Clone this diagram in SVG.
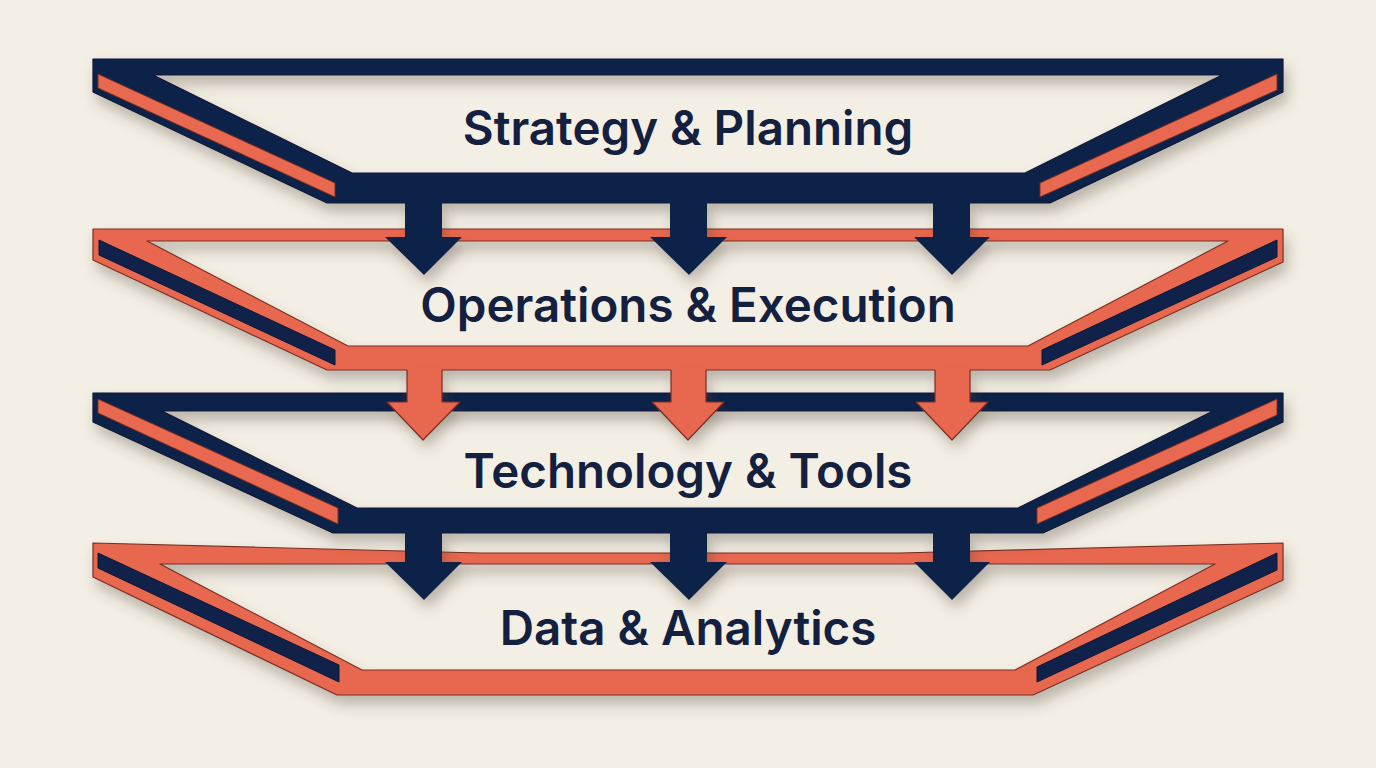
<svg xmlns="http://www.w3.org/2000/svg" width="1376" height="768" viewBox="0 0 1376 768">
<defs>
<filter id="sh" x="-10%" y="-20%" width="120%" height="150%">
<feDropShadow dx="4" dy="9" stdDeviation="7" flood-color="#4a3e30" flood-opacity="0.33"/>
</filter>
<style>
.navy{fill:#102249;stroke:#0b1836;stroke-width:1.2;stroke-linejoin:round}
.orng{fill:#e86850;stroke:#7a2e22;stroke-width:1.2;stroke-linejoin:round}
.sn{fill:#102249;stroke:#0b1836;stroke-width:1}
.so{fill:#e86850;stroke:#7a2e22;stroke-width:1}
.lbl{font-family:Inter,"Liberation Sans",sans-serif;font-weight:600;font-size:47.5px;fill:#13203f;text-anchor:middle}
.an{fill:#102249}
.ao{fill:#e86850}
.ol{fill:none;stroke:#7a2e22;stroke-width:1.2;stroke-linejoin:round}
</style>
</defs>
<rect width="1376" height="768" fill="#f3efe4"/>

<g id="layer4">
<path class="orng" filter="url(#sh)" fill-rule="evenodd" d="M93,543 L480,553 H900 L1283,543 V580 L1033,695 H337 L93,577 Z M160,564 H1215 L1015,670 H362 Z"/>
<polygon class="sn" points="98,553 98,568 339,682 339,665"/>
<polygon class="sn" points="1277,553 1277,570 1037,682 1037,667"/>
<text class="lbl" x="688" y="645">Data &amp; Analytics</text>
</g>

<g id="layer3">
<path class="navy" filter="url(#sh)" fill-rule="evenodd" d="M93,393 H1283 V422 L1043,533 H333 L93,422 Z M162,411 H1213 L1018,508 H357 Z"/>
<polygon class="so" points="98,399 98,413 338,524 338,508"/>
<polygon class="so" points="1277,399 1277,415 1037,524 1037,508"/>
<text class="lbl" x="688" y="488">Technology &amp; Tools</text>
</g>

<g id="layer2">
<path class="orng" filter="url(#sh)" fill-rule="evenodd" d="M93,229 H1283 V262 L1050,370 H327 L93,260 Z M147,241 H1228 L1028,346 H348 Z"/>
<polygon class="sn" points="99,240 99,255 335,365 335,350"/>
<polygon class="sn" points="1277,240 1277,257 1042,365 1042,350"/>
<text class="lbl" x="688" y="322">Operations &amp; Execution</text>
</g>

<g id="layer1">
<path class="navy" filter="url(#sh)" fill-rule="evenodd" d="M93,59 H1283 V92 L1050,203 H327 L93,92 Z M153,75 H1222 L1025,173 H352 Z"/>
<polygon class="so" points="98,74 98,88 335,197 335,183"/>
<polygon class="so" points="1277,74 1277,90 1040,197 1040,183"/>
<text class="lbl" x="688" y="145">Strategy &amp; Planning</text>
</g>

<g id="connectors">
<g filter="url(#sh)">
<path class="an" d="M405,201 H442 V237 H462 L424,275 L385,237 H405 Z"/>
<path class="an" d="M670,201 H707 V237 H727 L689,275 L650,237 H670 Z"/>
<path class="an" d="M933,201 H970 V237 H990 L952,275 L914,237 H933 Z"/>
</g>
<g filter="url(#sh)">
<path class="ao" d="M407,369 H442 V402 H460 L423,440 L387,402 H407 Z"/>
<path class="ao" d="M671,369 H706 V402 H724 L688,440 L652,402 H671 Z"/>
<path class="ao" d="M935,369 H970 V402 H988 L952,440 L916,402 H935 Z"/>
</g>
<path class="ol" d="M407,370 V402 H387 L423,440 L460,402 H442 V370"/>
<path class="ol" d="M671,370 V402 H652 L688,440 L724,402 H706 V370"/>
<path class="ol" d="M935,370 V402 H916 L952,440 L988,402 H970 V370"/>
<g filter="url(#sh)">
<path class="an" d="M405,531 H442 V562 H462 L424,600 L385,562 H405 Z"/>
<path class="an" d="M670,531 H707 V562 H727 L689,600 L650,562 H670 Z"/>
<path class="an" d="M933,531 H970 V562 H990 L952,600 L914,562 H933 Z"/>
</g>
</g>
</svg>
